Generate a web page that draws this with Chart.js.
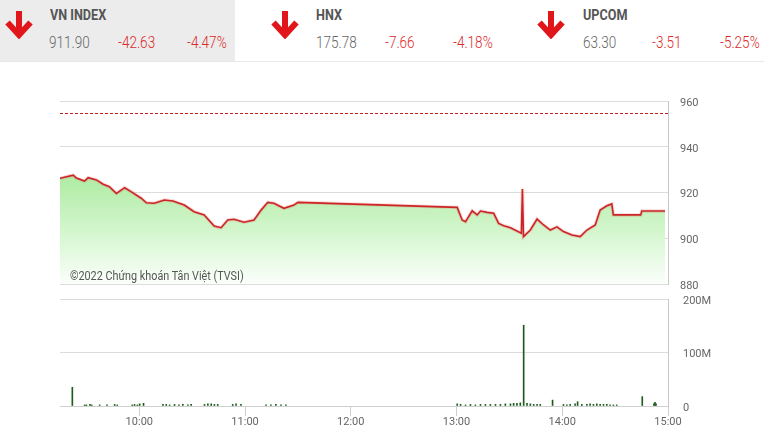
<!DOCTYPE html>
<html>
<head>
<meta charset="utf-8">
<script src="https://cdn.jsdelivr.net/npm/chart.js"></script>
<style>
body { margin: 0; background: #fff; font-family: Roboto, sans-serif; }
#wrap { position: relative; width: 764px; height: 441px; overflow: hidden; }
#head { position: absolute; left: 0; top: 0; width: 764px; height: 61px; border-bottom: 1px solid #e8e8e8; }
#head .hl { position: absolute; left: 0; top: 0; width: 235px; height: 61px; background: #ececec; }
.t { position: absolute; white-space: nowrap; line-height: 1; transform-origin: 0 50%; }
.name { font-weight: 700; font-size: 14.5px; color: #555; top: 9px; transform: scaleX(0.87); }
.num { font-weight: 300; font-size: 16.5px; color: #666; top: 35px; transform: scaleX(0.82); }
.red { color: #dc2a2a; }
svg.arr { position: absolute; top: 11px; }
canvas { position: absolute; left: 0; }
#wm { position: absolute; left: 70px; top: 270px; font-size: 12px; line-height: 1; color: #555;
      transform: scaleX(0.9); transform-origin: 0 50%; white-space: nowrap; }
</style>
</head>
<body>
<div id="wrap">
  <div id="head">
    <div class="hl"></div>
    <svg class="arr" style="left:5px" width="28" height="28" viewBox="0 0 28 28"><path d="M14 0 V23 M2.5 11.5 L14 24 L25.5 11.5" stroke="#e0161b" stroke-width="6" fill="none"/></svg>
    <div class="t name" style="left:50px">VN INDEX</div>
    <div class="t num" style="left:49px">911.90</div>
    <div class="t num red" style="left:118px">-42.63</div>
    <div class="t num red" style="left:187px">-4.47%</div>

    <svg class="arr" style="left:271px" width="28" height="28" viewBox="0 0 28 28"><path d="M14 0 V23 M2.5 11.5 L14 24 L25.5 11.5" stroke="#e0161b" stroke-width="6" fill="none"/></svg>
    <div class="t name" style="left:316px">HNX</div>
    <div class="t num" style="left:316px">175.78</div>
    <div class="t num red" style="left:385px">-7.66</div>
    <div class="t num red" style="left:453px">-4.18%</div>

    <svg class="arr" style="left:537px" width="28" height="28" viewBox="0 0 28 28"><path d="M14 0 V23 M2.5 11.5 L14 24 L25.5 11.5" stroke="#e0161b" stroke-width="6" fill="none"/></svg>
    <div class="t name" style="left:583px">UPCOM</div>
    <div class="t num" style="left:583px">63.30</div>
    <div class="t num red" style="left:652px">-3.51</div>
    <div class="t num red" style="left:720px">-5.25%</div>
  </div>

  <canvas id="price-chart" width="764" height="214" style="top:78px"></canvas>
  <canvas id="volume-chart" width="764" height="151" style="top:290px"></canvas>
  <div id="wm">©2022 Chứng khoán Tân Việt (TVSI)</div>
</div>

<script>
// time in minutes since midnight
var priceTimes = [555, 562.5, 564.3, 568.9, 571, 575.7, 579.5, 583, 587, 591.7, 595.5, 601.1, 604, 608.5, 614.2, 619.1, 621.9, 625.5, 631.1, 636.8, 642.5, 646.4, 650.2, 653.8, 659.4, 665.1, 669.1, 672.9, 676.4, 682.1, 687.7, 690, 780.4, 783.2, 785.1, 788.9, 791.7, 793.6, 797.4, 801.1, 803.9, 806.8, 810.6, 816.8, 817.4, 818, 821.9, 825.7, 829.4, 833.2, 837, 840.7, 845.5, 850.2, 854, 858.7, 861.5, 865.3, 868.1, 869, 884.5, 885.1, 898.3];
var priceValues = [926.2, 927.6, 926.3, 925.0, 926.5, 925.5, 923.6, 922.5, 919.6, 922.1, 920.3, 917.5, 915.5, 915.3, 916.7, 916.3, 915.5, 914.5, 911.6, 910.2, 905.3, 904.6, 908.0, 908.3, 907.0, 908.0, 912.3, 915.7, 915.3, 913.1, 914.5, 915.7, 913.5, 908.0, 907.2, 912.0, 910.2, 911.9, 911.3, 910.9, 906.5, 905.5, 904.6, 902.2, 921.5, 900.7, 903.6, 908.4, 905.8, 903.6, 905.0, 902.9, 901.4, 900.7, 903.6, 905.8, 912.3, 914.2, 915.0, 910.2, 910.2, 911.9, 911.9];
var refPrice = 954.53;

var volTimes = [562, 569, 570, 572, 573, 577.5, 581.7, 586, 587.5, 596, 597.3, 598.9, 600.2, 602.4, 613.4, 615.3, 617.2, 620, 622.5, 624.7, 627.6, 629.4, 637, 638.9, 640.8, 642.6, 644.5, 653, 654.9, 657.7, 671.9, 674.7, 677.5, 680.4, 683.2,
    780.4, 782.3, 785.1, 787.9, 790.7, 793.6, 796.4, 799.2, 802.1, 804.9, 807.7, 810.6, 812.4, 814.3, 816.2, 818.1, 820, 821.9, 823.8, 825.7, 827.5, 834.5, 840.7, 842.6, 844.5, 847.3, 848.7, 851.1, 854, 855.8, 857.7, 859.6, 861.5, 863.4, 865.3, 867.1, 869, 870.9, 885.4, 892, 892.6, 893.2];
// millions
var volMillions = [35, 2, 2, 3, 2, 2, 2, 3, 2, 2, 3, 2, 4, 5, 3, 3, 2, 3, 2, 3, 2, 3, 3, 4, 4, 3, 3, 3, 4, 3, 2, 2, 3, 2, 2,
    4, 3, 2, 3, 2, 3, 3, 3, 3, 3, 4, 4, 5, 5, 6, 151, 5, 4, 3, 3, 3, 11, 3, 2, 3, 4, 8, 3, 3, 4, 3, 4, 3, 3, 3, 2, 2, 2, 17.5, 4, 7, 4];

var xTicks = [600, 660, 720, 780, 840, 900];
var priceTicks = [880, 900, 920, 940, 960];
var volTicks = [0, 100, 200];

var xMin = 555, xMax = 900;

Chart.defaults.font.family = 'Roboto';
Chart.defaults.font.size = 11;
Chart.defaults.color = '#666';
Chart.defaults.animation = false;

function fmtTime(v) {
    var h = Math.floor(v / 60), m = v % 60;
    return h + ':' + (m < 10 ? '0' : '') + m;
}

var pricePoints = priceTimes.map(function (t, i) { return { x: t, y: priceValues[i] }; });

new Chart(document.getElementById('price-chart'), {
    type: 'line',
    data: {
        datasets: [{
            data: [{ x: xMin, y: refPrice }, { x: xMax, y: refPrice }],
            borderColor: '#c42020',
            borderWidth: 1,
            borderDash: [3, 2],
            pointRadius: 0,
            fill: false
        }, {
            data: pricePoints,
            borderColor: 'rgba(235, 100, 100, 0.25)',
            borderWidth: 3.5,
            pointRadius: 0,
            fill: false
        }, {
            data: pricePoints,
            borderColor: '#c01010',
            borderWidth: 1.6,
            pointRadius: 0,
            fill: 'start',
            backgroundColor: function (ctx) {
                var chart = ctx.chart;
                if (!chart.chartArea) return 'rgba(180,235,170,0.6)';
                var y = chart.scales.y;
                var g = chart.ctx.createLinearGradient(0, y.getPixelForValue(930), 0, chart.chartArea.bottom);
                g.addColorStop(0, 'rgb(170, 234, 158)');
                g.addColorStop(0.55, 'rgb(212, 246, 206)');
                g.addColorStop(1, 'rgb(251, 255, 251)');
                return g;
            }
        }]
    },
    options: {
        responsive: false,
        layout: { padding: { left: 60, top: 23, bottom: 8, right: 0 } },
        plugins: { legend: { display: false }, tooltip: { enabled: false } },
        scales: {
            x: { type: 'linear', min: xMin, max: xMax, display: false },
            y: {
                position: 'right',
                min: 880, max: 960,
                afterBuildTicks: function (s) { s.ticks = priceTicks.map(function (v) { return { value: v }; }); },
                afterFit: function (s) { s.width = 96; },
                grid: { color: '#dcdcdc', drawTicks: true, tickLength: 12, tickColor: 'rgba(0,0,0,0)' },
                border: { display: true, color: '#c8c8c8' },
                ticks: { padding: 0, labelOffset: 2 }
            }
        }
    }
});

new Chart(document.getElementById('volume-chart'), {
    type: 'bar',
    data: {
        datasets: [{
            data: volTimes.map(function (t, i) { return { x: t, y: volMillions[i] }; }),
            backgroundColor: '#1d5c1d',
            barThickness: 1
        }]
    },
    options: {
        responsive: false,
        layout: { padding: { left: 60, top: 9, bottom: 0, right: 0 } },
        plugins: { legend: { display: false }, tooltip: { enabled: false } },
        scales: {
            x: {
                type: 'linear', min: xMin, max: xMax,
                offset: false,
                afterBuildTicks: function (s) { s.ticks = xTicks.map(function (v) { return { value: v }; }); },
                afterFit: function (s) { s.height = 35; },
                grid: { offset: false, drawOnChartArea: false, drawTicks: true, tickLength: 10, color: '#cfcfcf' },
                border: { display: true, color: '#cfcfcf' },
                ticks: { padding: 0, maxRotation: 0, autoSkip: false, callback: function (v) { return fmtTime(v); } }
            },
            y: {
                position: 'right',
                min: 0, max: 200,
                afterBuildTicks: function (s) { s.ticks = volTicks.map(function (v) { return { value: v }; }); },
                afterFit: function (s) { s.width = 96; },
                grid: { color: '#dcdcdc', drawTicks: true, tickLength: 15, tickColor: 'rgba(0,0,0,0)' },
                border: { display: true, color: '#c8c8c8' },
                ticks: { padding: 0, labelOffset: 2, callback: function (v) { return v === 0 ? '0' : v + 'M'; } }
            }
        }
    }
});
</script>
</body>
</html>
